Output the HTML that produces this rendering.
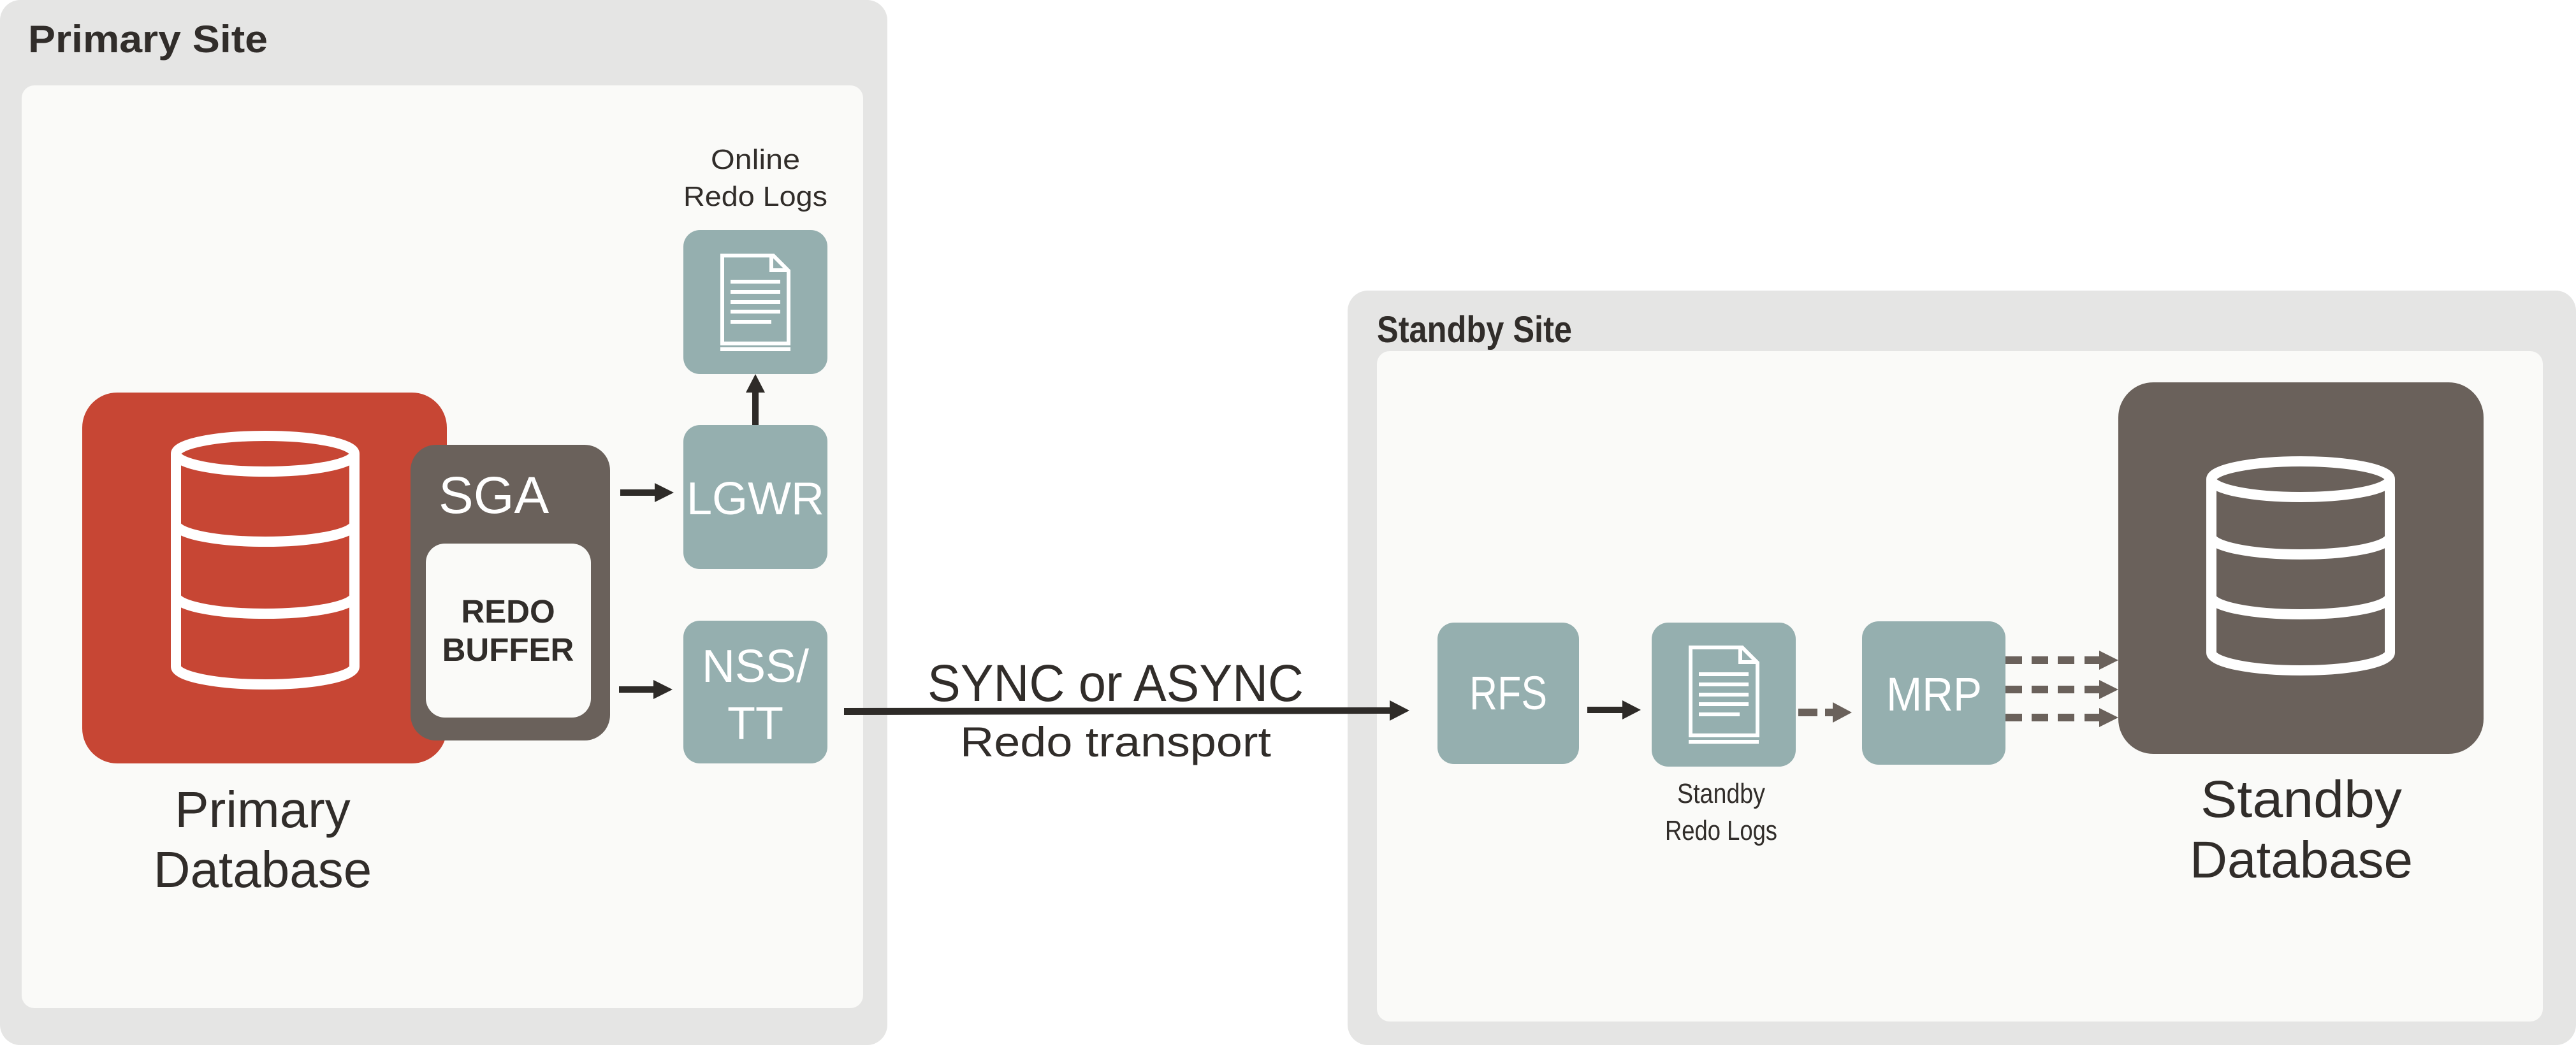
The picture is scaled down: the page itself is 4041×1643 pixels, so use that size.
<!DOCTYPE html>
<html><head><meta charset="utf-8"><style>
html,body{margin:0;padding:0;background:#fff;}
svg{display:block;}
text{font-family:"Liberation Sans",sans-serif;}
</style></head><body>
<svg width="4041" height="1643" viewBox="0 0 4041 1643" xmlns="http://www.w3.org/2000/svg">
<!-- Primary site -->
<rect x="0" y="0" width="1392" height="1640" rx="32" fill="#e5e5e4"/>
<rect x="34" y="134" width="1320" height="1448" rx="20" fill="#fafaf8"/>
<text x="44" y="82" font-size="60" font-weight="bold" fill="#312d2a" textLength="376" lengthAdjust="spacingAndGlyphs">Primary Site</text>

<!-- Red DB -->
<rect x="129" y="616" width="572" height="582" rx="55" fill="#c74634"/>
<g fill="none" stroke="#fff" stroke-width="16">
<ellipse cx="416" cy="712" rx="140" ry="28"/>
<path d="M276 712 V1046 A140 28 0 0 0 556 1046 V712"/>
<path d="M276 822 A140 28 0 0 0 556 822"/>
<path d="M276 935 A140 28 0 0 0 556 935"/>
</g>
<text x="412" y="1298" font-size="80" text-anchor="middle" fill="#312d2a">Primary</text>
<text x="412" y="1392" font-size="80" text-anchor="middle" fill="#312d2a">Database</text>

<!-- SGA -->
<rect x="644" y="698" width="313" height="464" rx="40" fill="#6a615b"/>
<text x="688" y="805" font-size="82" fill="#fff">SGA</text>
<rect x="668" y="853" width="259" height="273" rx="30" fill="#fafaf8"/>
<text x="797" y="977" font-size="51" font-weight="bold" text-anchor="middle" fill="#312d2a">REDO</text>
<text x="797" y="1037" font-size="51" font-weight="bold" text-anchor="middle" fill="#312d2a">BUFFER</text>

<!-- arrows SGA -> -->
<g fill="#2e2b28">
<rect x="973" y="768" width="58" height="10"/><path d="M1027 758 L1057 773 L1027 788Z"/>
<rect x="971" y="1077" width="58" height="10"/><path d="M1025 1067 L1055 1082 L1025 1097Z"/>
</g>

<!-- Online redo logs -->
<text x="1185" y="265" font-size="44" text-anchor="middle" fill="#312d2a" textLength="140" lengthAdjust="spacingAndGlyphs">Online</text>
<text x="1185" y="323" font-size="44" text-anchor="middle" fill="#312d2a" textLength="226" lengthAdjust="spacingAndGlyphs">Redo Logs</text>
<rect x="1072" y="361" width="226" height="226" rx="26" fill="#95afaf"/>
<g fill="none" stroke="#fff" stroke-width="6">
<path d="M1133 401 H1213 L1237 425 V539 H1133 Z"/>
<path d="M1210 401 V424 H1237"/>
</g>
<g fill="#fff">
<rect x="1146" y="439" width="78" height="6"/><rect x="1146" y="455" width="78" height="6"/>
<rect x="1146" y="471" width="78" height="6"/><rect x="1146" y="486" width="78" height="6"/>
<rect x="1146" y="502" width="64" height="6"/>
<rect x="1130" y="545" width="110" height="6"/>
</g>
<g fill="#2e2b28"><rect x="1180" y="612" width="10" height="58"/><path d="M1170 616 L1185 587 L1200 616Z"/></g>

<!-- LGWR -->
<rect x="1072" y="667" width="226" height="226" rx="26" fill="#95afaf"/>
<text x="1185" y="807" font-size="72" text-anchor="middle" fill="#fff">LGWR</text>
<!-- NSS/TT -->
<rect x="1072" y="974" width="226" height="224" rx="26" fill="#95afaf"/>
<text x="1185" y="1070" font-size="72" text-anchor="middle" fill="#fff">NSS/</text>
<text x="1185" y="1160" font-size="72" text-anchor="middle" fill="#fff">TT</text>

<!-- Standby site -->
<rect x="2114" y="456" width="1927" height="1184" rx="32" fill="#e5e5e4"/>
<rect x="2160" y="551" width="1829" height="1052" rx="20" fill="#fafaf8"/>
<text x="2160" y="537" font-size="58" font-weight="bold" fill="#312d2a" textLength="306" lengthAdjust="spacingAndGlyphs">Standby Site</text>

<!-- Transport arrow -->
<text x="1750" y="1100" font-size="82" text-anchor="middle" fill="#312d2a" textLength="590" lengthAdjust="spacingAndGlyphs">SYNC or ASYNC</text>
<text x="1750" y="1187" font-size="66" text-anchor="middle" fill="#312d2a" textLength="488" lengthAdjust="spacingAndGlyphs">Redo transport</text>
<g fill="#2e2b28"><path d="M1324 1111 L2182 1110 L2182 1120 L1324 1122Z"/><path d="M2180 1099 L2211 1115 L2180 1131Z"/></g>

<!-- RFS -->
<rect x="2255" y="977" width="222" height="222" rx="26" fill="#95afaf"/>
<text x="2366" y="1113" font-size="74" text-anchor="middle" fill="#fff" textLength="122" lengthAdjust="spacingAndGlyphs">RFS</text>
<g fill="#2e2b28"><rect x="2490" y="1109" width="56" height="10"/><path d="M2545 1099 L2574 1114 L2545 1129Z"/></g>

<!-- Standby redo logs -->
<rect x="2591" y="977" width="226" height="226" rx="26" fill="#95afaf"/>
<g fill="none" stroke="#fff" stroke-width="6">
<path d="M2652 1016 H2733 L2757 1040 V1154 H2652 Z"/>
<path d="M2730 1016 V1039 H2757"/>
</g>
<g fill="#fff">
<rect x="2665" y="1055" width="78" height="6"/><rect x="2665" y="1071" width="78" height="6"/>
<rect x="2665" y="1087" width="78" height="6"/><rect x="2665" y="1102" width="78" height="6"/>
<rect x="2665" y="1118" width="64" height="6"/>
<rect x="2649" y="1161" width="110" height="6"/>
</g>
<text x="2700" y="1260" font-size="44" text-anchor="middle" fill="#312d2a" textLength="138" lengthAdjust="spacingAndGlyphs">Standby</text>
<text x="2700" y="1318" font-size="44" text-anchor="middle" fill="#312d2a" textLength="176" lengthAdjust="spacingAndGlyphs">Redo Logs</text>
<g fill="#6a615b"><rect x="2821" y="1112" width="30" height="12"/><rect x="2863" y="1112" width="14" height="12"/><path d="M2875 1102 L2905 1118 L2875 1134Z"/></g>

<!-- MRP -->
<rect x="2921" y="975" width="225" height="225" rx="26" fill="#95afaf"/>
<text x="3034" y="1115" font-size="74" text-anchor="middle" fill="#fff" textLength="150" lengthAdjust="spacingAndGlyphs">MRP</text>
<g fill="#6a615b">
<g transform="translate(0,1036)"><rect x="3146" y="-6" width="26" height="12"/><rect x="3187" y="-6" width="26" height="12"/><rect x="3228" y="-6" width="26" height="12"/><rect x="3270" y="-6" width="26" height="12"/><path d="M3293 -15 L3323 0 L3293 15Z"/></g>
<g transform="translate(0,1082)"><rect x="3146" y="-6" width="26" height="12"/><rect x="3187" y="-6" width="26" height="12"/><rect x="3228" y="-6" width="26" height="12"/><rect x="3270" y="-6" width="26" height="12"/><path d="M3293 -15 L3323 0 L3293 15Z"/></g>
<g transform="translate(0,1126)"><rect x="3146" y="-6" width="26" height="12"/><rect x="3187" y="-6" width="26" height="12"/><rect x="3228" y="-6" width="26" height="12"/><rect x="3270" y="-6" width="26" height="12"/><path d="M3293 -15 L3323 0 L3293 15Z"/></g>
</g>

<!-- Standby DB -->
<rect x="3323" y="600" width="573" height="583" rx="55" fill="#6a615b"/>
<g fill="none" stroke="#fff" stroke-width="16">
<ellipse cx="3609" cy="752" rx="140" ry="28"/>
<path d="M3469 752 V1024 A140 28 0 0 0 3749 1024 V752"/>
<path d="M3469 842 A140 28 0 0 0 3749 842"/>
<path d="M3469 936 A140 28 0 0 0 3749 936"/>
</g>
<text x="3610" y="1282" font-size="82" text-anchor="middle" fill="#312d2a" textLength="316" lengthAdjust="spacingAndGlyphs">Standby</text>
<text x="3610" y="1377" font-size="82" text-anchor="middle" fill="#312d2a" textLength="350" lengthAdjust="spacingAndGlyphs">Database</text>
</svg>
</body></html>
